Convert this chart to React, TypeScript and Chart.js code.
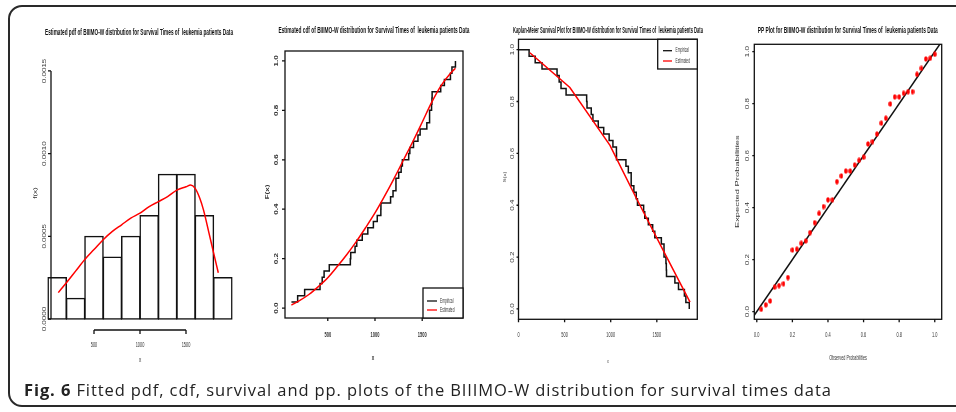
import React, { useEffect, useRef } from 'react';
import { Chart, registerables } from 'chart.js';
Chart.register(...registerables);

const W = 956;
const H = 412;

// ---------- DATA ----------
// histogram (density) of survival times, bins of width 200
const histBinMids = [100, 300, 500, 700, 900, 1100, 1300, 1500, 1700, 1900];
const histDensity = [0.00025, 0.000125, 0.0005, 0.000375, 0.0005, 0.000625, 0.000875, 0.000875, 0.000625, 0.00025];
// fitted pdf (red curve, panel 1)
const pdfX = [112, 200, 300, 400, 500, 600, 700, 800, 900, 1000, 1100, 1200, 1300, 1400, 1500, 1550, 1600, 1650, 1690, 1750, 1800, 1851];
const pdfY = [0.00016, 0.00022, 0.00029, 0.00036, 0.00042, 0.00048, 0.00053, 0.00057, 0.00061, 0.00064, 0.00068, 0.00071, 0.00074, 0.00078, 0.0008, 0.00081, 0.00079, 0.00073, 0.00066, 0.00052, 0.0004, 0.00028];
// observed survival times (days)
const survivalTimes = [115, 181, 255, 418, 441, 461, 516, 739, 743, 789, 807, 865, 924, 983, 1024, 1062, 1063, 1165, 1191, 1222, 1222, 1251, 1277, 1290, 1357, 1369, 1408, 1455, 1478, 1549, 1578, 1578, 1599, 1603, 1605, 1696, 1735, 1799, 1815, 1852];
const empiricalCdf = [0.025, 0.05, 0.075, 0.1, 0.125, 0.15, 0.175, 0.2, 0.225, 0.25, 0.275, 0.3, 0.325, 0.35, 0.375, 0.4, 0.425, 0.45, 0.475, 0.5, 0.525, 0.55, 0.575, 0.6, 0.625, 0.65, 0.675, 0.7, 0.725, 0.75, 0.775, 0.8, 0.825, 0.85, 0.875, 0.9, 0.925, 0.95, 0.975, 1.0];
// fitted cdf (red curve, panel 2)
const cdfX = [115, 200, 300, 400, 500, 600, 700, 800, 900, 1000, 1100, 1200, 1300, 1400, 1500, 1600, 1700, 1800, 1852];
const cdfY = [0.012, 0.03, 0.055, 0.087, 0.123, 0.168, 0.216, 0.268, 0.325, 0.385, 0.452, 0.523, 0.598, 0.673, 0.752, 0.832, 0.9, 0.95, 0.97];
// Kaplan-Meier estimate (panel 3)
const kmTimes = [0, 115, 181, 255, 418, 441, 461, 516, 739, 743, 789, 807, 865, 924, 983, 1024, 1062, 1063, 1165, 1191, 1222, 1222, 1251, 1277, 1290, 1357, 1369, 1408, 1455, 1478, 1549, 1578, 1578, 1599, 1603, 1605, 1696, 1735, 1799, 1815, 1852];
const kmSurvival = [1.0, 0.975, 0.95, 0.925, 0.9, 0.875, 0.85, 0.825, 0.8, 0.775, 0.75, 0.725, 0.7, 0.675, 0.65, 0.625, 0.6, 0.575, 0.55, 0.525, 0.5, 0.475, 0.45, 0.425, 0.4, 0.375, 0.35, 0.325, 0.3, 0.275, 0.25, 0.225, 0.2, 0.175, 0.15, 0.125, 0.1, 0.075, 0.05, 0.025, 0.0];
// fitted survival (red, panel 3)
const estSurvX = [123, 557, 992, 1281, 1607, 1860];
const estSurvY = [0.988, 0.854, 0.631, 0.425, 0.2, 0.026];
// PP plot
const ppObserved = [0.025, 0.05, 0.075, 0.1, 0.125, 0.15, 0.175, 0.2, 0.225, 0.25, 0.275, 0.3, 0.325, 0.35, 0.375, 0.4, 0.425, 0.45, 0.475, 0.5, 0.525, 0.55, 0.575, 0.6, 0.625, 0.65, 0.675, 0.7, 0.725, 0.75, 0.775, 0.8, 0.825, 0.85, 0.875, 0.9, 0.925, 0.95, 0.975, 1.0];
const ppExpected = [0.009, 0.026, 0.041, 0.094, 0.1, 0.107, 0.131, 0.237, 0.24, 0.263, 0.272, 0.304, 0.342, 0.378, 0.404, 0.43, 0.43, 0.5, 0.522, 0.541, 0.541, 0.564, 0.582, 0.594, 0.645, 0.654, 0.683, 0.725, 0.744, 0.799, 0.826, 0.826, 0.84, 0.846, 0.846, 0.913, 0.936, 0.972, 0.975, 0.99];
const ppRefLine = [-0.1, 1.1];

// ticks
const pdfXTicks = [500, 1000, 1500];
const pdfXTickLabels = ['500', '1000', '1500'];
const pdfYTicks = [0, 0.0005, 0.001, 0.0015];
const pdfYTickLabels = ['0.0000', '0.0005', '0.0010', '0.0015'];
const timeTicks = [500, 1000, 1500];
const timeTickLabels = ['500', '1000', '1500'];
const kmXTicks = [0, 500, 1000, 1500];
const kmXTickLabels = ['0', '500', '1000', '1500'];
const probTicks = [0, 0.2, 0.4, 0.6, 0.8, 1.0];
const probTickLabels = ['0.0', '0.2', '0.4', '0.6', '0.8', '1.0'];

const titlePdf = 'Estimated pdf of BIIIMO-W distribution for Survival Times of  leukemia patients Data';
const titleCdf = 'Estimated cdf of BIIIMO-W distribution for Survival Times of  leukemia patients Data';
const titleKm = 'Kaplan-Meier Survival Plot for BIIIMO-W distribution for Survival Times of  leukemia patients Data';
const titlePp = 'PP Plot for BIIIMO-W distribution for Survival Times of  leukemia patients Data';

// ---------- drawing helpers ----------
type TOpt = { size: number; bold?: boolean; sx?: number; rot?: boolean; align?: CanvasTextAlign; color?: string; fitW?: number };

function drawText(ctx: CanvasRenderingContext2D, s: string, x: number, y: number, o: TOpt) {
  ctx.save();
  ctx.font = `${o.bold ? 'bold ' : ''}${o.size}px "Liberation Sans", Arial, sans-serif`;
  let sx = o.sx ?? 1;
  if (o.fitW) sx = o.fitW / ctx.measureText(s).width;
  ctx.translate(x, y);
  ctx.scale(sx, 1);
  if (o.rot) ctx.rotate(-Math.PI / 2);
  ctx.fillStyle = o.color ?? '#222';
  ctx.textAlign = o.align ?? 'center';
  ctx.textBaseline = 'middle';
  ctx.fillText(s, 0, 0);
  ctx.restore();
}

type AxisSpec = { ticks: number[]; labels: string[]; linePos: number; labelPos: number; line?: boolean; tick: number; font: TOpt };
type Deco = {
  title: { text: string; x: number; y: number; w: number };
  box?: boolean;
  xAxis: AxisSpec;
  yAxis: AxisSpec;
  xTitle: { text: string; x: number; y: number; font: TOpt };
  yTitle: { text: string; x: number; y: number; font: TOpt };
  legend?: { x1: number; y1: number; x2: number; y2: number; lx1: number; lx2: number; tx: number; items: { text: string; color: string; y: number }[]; font: TOpt };
};

function decoPlugin(d: Deco) {
  return {
    id: 'rdeco',
    afterDatasetsDraw(chart: any) {
      const ctx: CanvasRenderingContext2D = chart.ctx;
      const xs = chart.scales.x;
      const ys = chart.scales.y;
      const a = chart.chartArea;
      ctx.save();
      ctx.strokeStyle = '#111';
      ctx.lineWidth = 1.3;
      if (d.box) ctx.strokeRect(a.left, a.top, a.right - a.left, a.bottom - a.top);
      // x axis
      const xp = d.xAxis.ticks.map((v) => xs.getPixelForValue(v));
      ctx.beginPath();
      if (d.xAxis.line) {
        ctx.moveTo(xp[0], d.xAxis.linePos);
        ctx.lineTo(xp[xp.length - 1], d.xAxis.linePos);
      }
      xp.forEach((px) => {
        ctx.moveTo(px, d.xAxis.linePos);
        ctx.lineTo(px, d.xAxis.linePos + d.xAxis.tick);
      });
      ctx.stroke();
      xp.forEach((px, i) => drawText(ctx, d.xAxis.labels[i], px, d.xAxis.labelPos, d.xAxis.font));
      // y axis
      const yp = d.yAxis.ticks.map((v) => ys.getPixelForValue(v));
      ctx.beginPath();
      if (d.yAxis.line) {
        ctx.moveTo(d.yAxis.linePos, yp[0]);
        ctx.lineTo(d.yAxis.linePos, yp[yp.length - 1]);
      }
      yp.forEach((py) => {
        ctx.moveTo(d.yAxis.linePos, py);
        ctx.lineTo(d.yAxis.linePos - d.yAxis.tick, py);
      });
      ctx.stroke();
      yp.forEach((py, i) => drawText(ctx, d.yAxis.labels[i], d.yAxis.labelPos, py, { ...d.yAxis.font, rot: true }));
      // titles
      drawText(ctx, d.title.text, d.title.x, d.title.y, { size: 9.5, bold: true, fitW: d.title.w, color: '#111' });
      drawText(ctx, d.xTitle.text, d.xTitle.x, d.xTitle.y, d.xTitle.font);
      drawText(ctx, d.yTitle.text, d.yTitle.x, d.yTitle.y, { ...d.yTitle.font, rot: true });
      // legend
      if (d.legend) {
        const L = d.legend;
        ctx.fillStyle = '#fff';
        ctx.fillRect(L.x1, L.y1, L.x2 - L.x1, L.y2 - L.y1);
        ctx.strokeStyle = '#111';
        ctx.lineWidth = 1.3;
        ctx.strokeRect(L.x1, L.y1, L.x2 - L.x1, L.y2 - L.y1);
        L.items.forEach((it) => {
          ctx.strokeStyle = it.color;
          ctx.lineWidth = 1.3;
          ctx.beginPath();
          ctx.moveTo(L.lx1, it.y);
          ctx.lineTo(L.lx2, it.y);
          ctx.stroke();
          drawText(ctx, it.text, L.tx, it.y, { ...L.font, align: 'left' });
        });
      }
      ctx.restore();
    },
  };
}

function pad(left: number, top: number, right: number, bottom: number) {
  return { left, top, right: W - right, bottom: H - bottom };
}

const baseOptions = (padding: any, xr: [number, number], yr: [number, number]) => ({
  animation: false,
  responsive: false,
  maintainAspectRatio: false,
  events: [],
  layout: { padding },
  scales: {
    x: { type: 'linear', min: xr[0], max: xr[1], display: false, offset: false },
    y: { type: 'linear', min: yr[0], max: yr[1], display: false },
  },
  plugins: { legend: { display: false }, tooltip: { enabled: false }, title: { display: false } },
});

const tickX: TOpt = { size: 7.5, sx: 0.52, color: '#333' };
const tickY: TOpt = { size: 8, sx: 0.6, color: '#333' };

function makeDot() {
  const c = document.createElement('canvas');
  c.width = 4;
  c.height = 6;
  const g = c.getContext('2d')!;
  g.fillStyle = '#ff0000';
  g.beginPath();
  g.ellipse(2, 3, 1.8, 2.8, 0, 0, Math.PI * 2);
  g.fill();
  return c;
}

function buildConfigs(): any[] {
  const black = '#111';
  const red = '#ff0000';
  // Panel 1: pdf
  const c1 = {
    type: 'bar',
    data: {
      datasets: [
        {
          type: 'line',
          data: pdfX.map((x, i) => ({ x, y: pdfY[i] })),
          borderColor: red,
          borderWidth: 1.5,
          pointRadius: 0,
          cubicInterpolationMode: 'monotone',
          order: 0,
        },
        {
          type: 'bar',
          data: histBinMids.map((x, i) => ({ x, y: histDensity[i] })),
          backgroundColor: 'rgba(0,0,0,0)',
          borderColor: black,
          borderWidth: 0.3,
          inflateAmount: 0.6,
          borderSkipped: false,
          barPercentage: 1,
          categoryPercentage: 1,
          order: 1,
        },
      ],
    },
    options: baseOptions(pad(44, 61, 240, 329), [-43.5, 2087], [-0.00006, 0.00156]),
    plugins: [
      decoPlugin({
        title: { text: titlePdf, x: 139, y: 32, w: 188 },
        xAxis: { ticks: pdfXTicks, labels: pdfXTickLabels, linePos: 330, labelPos: 345, line: true, tick: 4, font: tickX },
        yAxis: { ticks: pdfYTicks, labels: pdfYTickLabels, linePos: 51, labelPos: 44.5, line: true, tick: 3, font: tickY },
        xTitle: { text: 'x', x: 140, y: 360, font: { size: 7.5, sx: 0.6, color: '#333' } },
        yTitle: { text: 'f(x)', x: 36, y: 193, font: { size: 8, sx: 0.6, color: '#333' } },
      }),
    ],
  };
  // Panel 2: cdf
  const c2 = {
    type: 'scatter',
    data: {
      datasets: [
        {
          data: cdfX.map((x, i) => ({ x, y: cdfY[i] })),
          showLine: true,
          borderColor: red,
          borderWidth: 1.5,
          pointRadius: 0,
          cubicInterpolationMode: 'monotone',
          order: 0,
        },
        {
          data: survivalTimes.map((x, i) => ({ x, y: empiricalCdf[i] })),
          showLine: true,
          stepped: 'before',
          borderColor: black,
          borderWidth: 1.5,
          pointRadius: 0,
          order: 1,
        },
      ],
    },
    options: baseOptions(pad(285, 51, 463, 318), [47, 1932], [-0.04, 1.04]),
    plugins: [
      decoPlugin({
        title: { text: titleCdf, x: 374, y: 30, w: 191 },
        box: true,
        xAxis: { ticks: timeTicks, labels: timeTickLabels, linePos: 318, labelPos: 335, tick: 3, font: { ...tickX, bold: true, sx: 0.53 } },
        yAxis: { ticks: probTicks, labels: probTickLabels, linePos: 285, labelPos: 277, tick: 3, font: { ...tickY, bold: true, sx: 0.65 } },
        xTitle: { text: 'x', x: 373, y: 358, font: { size: 7.5, bold: true, sx: 0.6, color: '#333' } },
        yTitle: { text: 'F(x)', x: 268, y: 192, font: { size: 8, bold: true, sx: 0.6, color: '#333' } },
        legend: {
          x1: 423, y1: 288, x2: 463, y2: 318, lx1: 427, lx2: 437, tx: 440,
          items: [
            { text: 'Empirical', color: black, y: 301 },
            { text: 'Estimated', color: red, y: 310 },
          ],
          font: { size: 6.5, sx: 0.5, color: '#333' },
        },
      }),
    ],
  };
  // Panel 3: KM
  const c3 = {
    type: 'scatter',
    data: {
      datasets: [
        {
          data: estSurvX.map((x, i) => ({ x, y: estSurvY[i] })),
          showLine: true,
          borderColor: red,
          borderWidth: 1.5,
          pointRadius: 0,
          order: 0,
        },
        {
          data: kmTimes.map((x, i) => ({ x, y: kmSurvival[i] })),
          showLine: true,
          stepped: 'before',
          borderColor: black,
          borderWidth: 1.5,
          pointRadius: 0,
          order: 1,
        },
      ],
    },
    options: baseOptions(pad(518.5, 39.3, 697.3, 319.3), [0, 1939], [-0.04, 1.04]),
    plugins: [
      decoPlugin({
        title: { text: titleKm, x: 608, y: 30, w: 190 },
        box: true,
        xAxis: { ticks: kmXTicks, labels: kmXTickLabels, linePos: 319.3, labelPos: 335, tick: 3, font: tickX },
        yAxis: { ticks: probTicks, labels: probTickLabels, linePos: 518.5, labelPos: 513, tick: 2, font: tickY },
        xTitle: { text: 'x', x: 608, y: 361, font: { size: 6, sx: 0.6, color: '#444' } },
        yTitle: { text: 'S(x)', x: 505.5, y: 177, font: { size: 6, sx: 0.6, color: '#444' } },
        legend: {
          x1: 657.7, y1: 39.3, x2: 697.3, y2: 69, lx1: 663, lx2: 672, tx: 675.5,
          items: [
            { text: 'Empirical', color: black, y: 50.7 },
            { text: 'Estimated', color: red, y: 61 },
          ],
          font: { size: 6.5, sx: 0.5, color: '#333' },
        },
      }),
    ],
  };
  // Panel 4: PP
  const dot = makeDot();
  const c4 = {
    type: 'scatter',
    data: {
      datasets: [
        {
          data: ppRefLine.map((v) => ({ x: v, y: v })),
          showLine: true,
          borderColor: black,
          borderWidth: 1.5,
          pointRadius: 0,
          order: 1,
        },
        {
          data: ppObserved.map((x, i) => ({ x, y: ppExpected[i] })),
          showLine: false,
          pointStyle: dot,
          pointRadius: 3,
          order: 0,
        },
      ],
    },
    options: baseOptions(pad(754.3, 44.3, 941.7, 319.3), [-0.014, 1.039], [-0.0296, 1.0285]),
    plugins: [
      decoPlugin({
        title: { text: titlePp, x: 847.7, y: 30, w: 180 },
        box: true,
        xAxis: { ticks: probTicks, labels: probTickLabels, linePos: 319.3, labelPos: 335, tick: 3, font: tickX },
        yAxis: { ticks: probTicks, labels: probTickLabels, linePos: 754.3, labelPos: 747.5, tick: 2, font: tickY },
        xTitle: { text: 'Observed Probabilities', x: 848, y: 358, font: { size: 7.5, sx: 0.5, color: '#333' } },
        yTitle: { text: 'Expected Probabilities', x: 737.7, y: 181.7, font: { size: 9.4, sx: 0.5, color: '#333' } },
      }),
    ],
  };
  return [c1, c2, c3, c4];
}

function Panels() {
  const refs = [useRef<HTMLCanvasElement>(null), useRef<HTMLCanvasElement>(null), useRef<HTMLCanvasElement>(null), useRef<HTMLCanvasElement>(null)];
  useEffect(() => {
    const cfgs = buildConfigs();
    const charts = cfgs.map((cfg, i) => new Chart(refs[i].current as HTMLCanvasElement, cfg));
    return () => charts.forEach((c) => c.destroy());
  }, []);
  return (
    <>
      {refs.map((r, i) => (
        <canvas key={i} ref={r} width={W} height={H} style={{ position: 'absolute', left: 0, top: 0, width: W, height: H }} />
      ))}
    </>
  );
}

export default function App() {
  return (
    <div style={{ position: 'absolute', left: 0, top: 0, width: W, height: H, overflow: 'hidden', background: '#fff' }}>
      <div
        style={{
          position: 'absolute',
          left: 8,
          top: 5,
          width: 1000,
          height: 402,
          border: '2px solid #2a2a2a',
          borderRadius: 14,
          boxSizing: 'border-box',
        }}
      />
      <Panels />
      <div
        style={{
          position: 'absolute',
          left: 24,
          top: 380,
          fontFamily: '"Open Sans", "Noto Sans", sans-serif',
          fontSize: 16.5,
          letterSpacing: '0.9px',
          lineHeight: '20px',
          color: '#222',
          whiteSpace: 'nowrap',
        }}
      >
        <b>Fig. 6</b> Fitted pdf, cdf, survival and pp. plots of the BIIIMO-W distribution for survival times data
      </div>
    </div>
  );
}
